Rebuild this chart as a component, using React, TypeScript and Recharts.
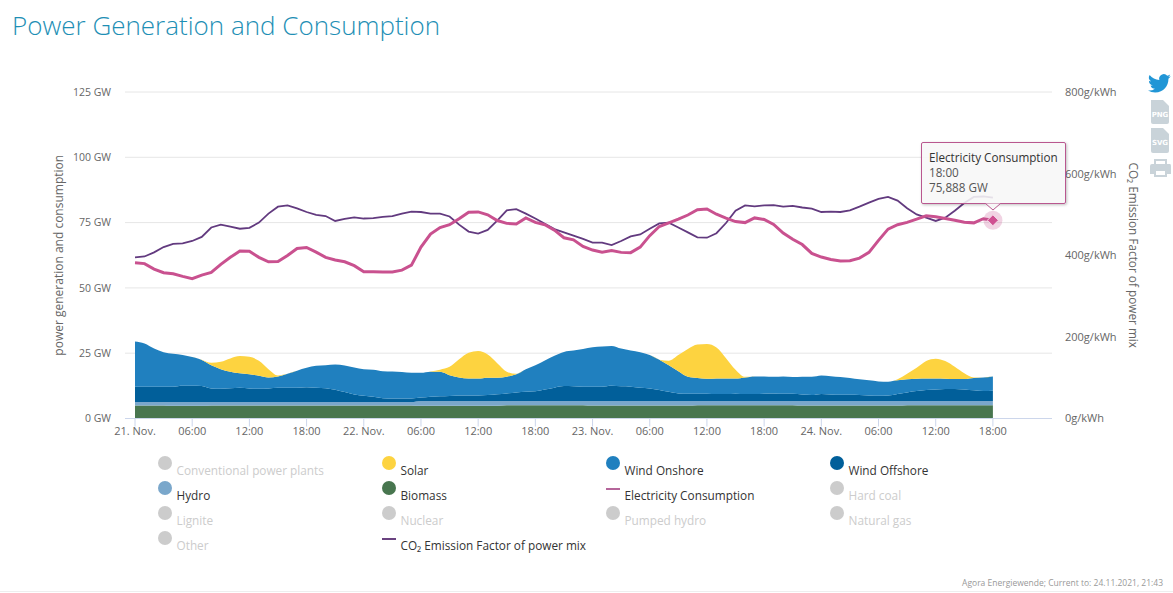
import React from 'react';
import { ComposedChart, Area, Line, XAxis, YAxis, CartesianGrid, Tooltip } from 'recharts';

const hours = Array.from({ length: 91 }, (_, i) => i);

const tickHours = [0, 6, 12, 18, 24, 30, 36, 42, 48, 54, 60, 66, 72, 78, 84, 90];
const tickLabels = ['21. Nov.', '06:00', '12:00', '18:00', '22. Nov.', '06:00', '12:00', '18:00', '23. Nov.', '06:00', '12:00', '18:00', '24. Nov.', '06:00', '12:00', '18:00'];
const leftTicks = [0, 25, 50, 75, 100, 125];
const rightTicks = [0, 200, 400, 600, 800];

const biomass = [
  5.0, 5.0, 5.0, 5.0, 4.9, 4.9, 4.9, 4.9, 5.0, 5.0, 5.0, 5.0, 5.0, 5.0, 5.0, 5.0, 5.0, 5.0, 5.0, 5.0, 5.0, 5.0, 5.0, 5.0, 5.0, 5.0, 5.0, 5.0, 5.0, 5.0,
  4.9, 4.9, 4.9, 4.9, 4.9, 4.9, 4.9, 4.9, 4.9, 5.1, 5.1, 5.1, 5.1, 5.1, 5.1, 5.1, 5.1, 5.1, 5.0, 5.0, 5.0, 5.0, 5.0, 5.0, 5.0, 5.0, 5.0, 5.0, 5.0, 5.1,
  5.1, 5.1, 5.1, 5.1, 5.1, 5.1, 5.1, 5.1, 5.1, 5.1, 5.0, 5.0, 5.0, 5.0, 5.0, 5.0, 5.0, 5.0, 5.0, 5.0, 5.0, 5.1, 5.1, 5.1, 5.1, 5.1, 5.1, 5.1, 5.1, 5.1, 5.1,
];
const hydro = [
  1.3, 1.3, 1.3, 1.3, 1.4, 1.4, 1.4, 1.4, 1.3, 1.3, 1.3, 1.3, 1.3, 1.3, 1.3, 1.3, 1.3, 1.3, 1.3, 1.3, 1.3, 1.3, 1.3, 1.3, 1.3, 1.3, 1.3, 1.3, 1.3, 1.3,
  1.8, 1.8, 1.8, 1.8, 1.8, 1.8, 1.8, 1.8, 1.8, 1.6, 1.6, 1.6, 1.6, 1.6, 1.6, 1.6, 1.6, 1.6, 1.7, 1.7, 1.7, 1.7, 1.7, 1.7, 1.7, 1.7, 1.7, 1.7, 1.7, 1.6,
  1.6, 1.6, 1.6, 1.6, 1.6, 1.6, 1.6, 1.6, 1.6, 1.6, 1.7, 1.7, 1.7, 1.7, 1.7, 1.7, 1.7, 1.7, 1.7, 1.7, 1.7, 1.6, 1.6, 1.6, 1.6, 1.6, 1.6, 1.6, 1.6, 1.6, 1.6,
];
const windOffshore = [
  5.9, 5.9, 5.9, 5.9, 5.9, 6.2, 6.2, 6.1, 5.2, 5.1, 5.3, 5.5, 5.2, 5.1, 5.2, 5.5, 5.5, 5.5, 5.7, 5.5, 5.3, 4.7, 3.8, 2.9, 2.4, 2.0, 1.5, 1.4, 1.4, 1.4,
  1.3, 1.6, 1.8, 1.9, 2.1, 2.1, 2.1, 2.3, 2.6, 2.9, 3.3, 3.5, 3.7, 4.4, 5.1, 5.7, 5.6, 5.5, 5.5, 5.5, 5.8, 5.6, 5.5, 5.1, 4.8, 4.2, 3.5, 2.9, 2.8, 2.8,
  2.8, 2.7, 2.7, 2.8, 2.7, 2.7, 2.8, 2.9, 2.8, 2.8, 2.5, 2.3, 2.7, 2.5, 2.4, 2.4, 2.3, 2.1, 2.0, 2.1, 2.7, 3.3, 3.8, 4.2, 4.4, 4.6, 4.6, 4.4, 4.1, 3.8, 3.9,
];
const windOnshore = [
  17.3, 16.5, 14.6, 13.2, 12.6, 11.8, 11.0, 10.0, 8.9, 7.5, 6.3, 5.5, 5.4, 5.0, 4.2, 4.3, 5.3, 6.5, 7.4, 8.4, 8.8, 9.7, 10.2, 10.3, 10.2, 10.4, 10.3, 10.3, 10.1, 9.8,
  9.5, 9.6, 9.4, 8.0, 6.9, 6.5, 6.5, 6.6, 6.3, 6.4, 6.9, 8.7, 10.0, 11.1, 12.2, 13.1, 13.7, 14.4, 15.1, 15.4, 15.3, 14.5, 13.8, 13.6, 12.8, 11.6, 10.2, 8.5, 6.5, 6.0,
  5.7, 5.9, 5.9, 5.8, 6.3, 6.7, 6.6, 6.4, 6.6, 6.4, 6.8, 7.0, 7.1, 7.0, 6.8, 6.4, 6.0, 5.8, 5.5, 5.3, 5.2, 5.0, 4.7, 4.4, 4.2, 3.9, 3.8, 4.0, 4.7, 5.2, 5.5,
];
const solar = [
  0, 0, 0, 0, 0, 0, 0, 0.1, 0.9, 2.8, 5.1, 6.6, 6.7, 5.7, 3.2, 0.4, 0, 0, 0, 0, 0, 0, 0, 0, 0, 0, 0, 0, 0, 0,
  0, 0.1, 0.8, 3.2, 7.0, 9.9, 10.5, 8.9, 5.6, 1.9, 0.2, 0, 0, 0, 0, 0, 0, 0, 0, 0, 0, 0, 0, 0, 0, 0, 1.7, 6.2, 10.6, 12.8,
  13.3, 11.9, 7.8, 3.4, 0.3, 0, 0, 0, 0, 0, 0, 0, 0, 0, 0, 0, 0, 0, 0, 0, 0.4, 2.1, 4.2, 6.7, 7.6, 6.8, 4.7, 2.2, 0.2, 0, 0,
];
const consumption = [
  59.6, 59.3, 57.2, 55.8, 55.4, 54.4, 53.5, 54.9, 55.9, 59.0, 61.7, 64.1, 64.0, 61.7, 60.0, 60.1, 62.4, 65.1, 65.5, 63.7, 61.7, 60.7, 60.0, 58.5, 56.2, 56.2, 56.1, 56.1, 56.8, 58.7,
  65.6, 70.6, 73.1, 74.2, 76.5, 79.0, 79.1, 78.0, 75.8, 74.7, 74.5, 76.8, 75.1, 74.2, 72.1, 69.2, 68.4, 65.9, 64.5, 63.7, 64.3, 63.6, 63.5, 65.6, 70.0, 73.5, 74.9, 76.3, 77.9, 79.9,
  80.2, 78.2, 76.7, 75.4, 75.0, 76.8, 76.2, 74.3, 71.0, 68.6, 66.6, 63.2, 61.8, 60.9, 60.3, 60.4, 61.4, 63.6, 68.2, 72.5, 74.2, 75.1, 76.3, 77.6, 77.2, 76.6, 75.9, 75.1, 74.9, 76.5, 75.888,
];
const co2Factor = [
  395, 397, 407, 420, 428, 429, 435, 445, 468, 475, 470, 465, 467, 480, 502, 519, 522, 515, 506, 499, 496, 484, 489, 493, 490, 491, 494, 496, 502, 507,
  506, 502, 502, 495, 475, 458, 453, 462, 485, 510, 513, 502, 490, 477, 464, 456, 448, 440, 431, 431, 425, 435, 446, 451, 465, 478, 480, 468, 456, 444,
  443, 454, 479, 509, 522, 520, 522, 523, 519, 521, 517, 514, 506, 507, 506, 510, 519, 529, 538, 543, 534, 515, 500, 492, 484, 492, 509, 528, 543, 544, 541,
];

const data = hours.map((hour, i) => ({
  hour,
  label: tickLabels[tickHours.indexOf(hour)] ?? '',
  biomass: biomass[i],
  hydro: hydro[i],
  windOffshore: windOffshore[i],
  windOnshore: windOnshore[i],
  solar: solar[i],
  consumption: consumption[i],
  co2Factor: co2Factor[i],
}));

const FONT = '"Open Sans", sans-serif';
const TICK = '#666666';

const legendRows = [
  [{ name: 'Conventional power plants' }, { name: 'Solar', color: '#fdd340' }, { name: 'Wind Onshore', color: '#2080bf' }, { name: 'Wind Offshore', color: '#015f9a' }],
  [{ name: 'Hydro', color: '#7aa7cb' }, { name: 'Biomass', color: '#48764f' }, { name: 'Electricity Consumption', color: '#b5659a', line: true }, { name: 'Hard coal' }],
  [{ name: 'Lignite' }, { name: 'Nuclear' }, { name: 'Pumped hydro' }, { name: 'Natural gas' }],
  [{ name: 'Other' }, { name: 'CO₂ Emission Factor of power mix', color: '#6a4280', line: true }],
];
const legendX = [158, 382, 606, 830];
const legendY = [456, 481, 506, 531];

const LegendBlock = () => (
  <>
    {legendRows.flatMap((row, r) =>
      row.map((item: any, c) => (
        <div key={item.name} style={{ position: 'absolute', left: legendX[c], top: legendY[r], height: 24, width: 220 }}>
          {item.line ? (
            <div style={{ position: 'absolute', left: 0, top: 7, width: 14, height: 2, background: item.color }} />
          ) : (
            <div style={{ position: 'absolute', left: 0, top: 0, width: 14, height: 14, borderRadius: 7, background: item.color ?? '#cccccc' }} />
          )}
          <span style={{ position: 'absolute', left: 18.5, top: 6, fontSize: 11.8, lineHeight: '16px', whiteSpace: 'nowrap', color: item.color ? '#333333' : '#cccccc' }}>{item.name}</span>
        </div>
      )),
    )}
  </>
);

const TooltipBox = ({ active, payload }: any) => {
  if (!active || !payload || !payload.length) return null;
  const row = payload[0].payload;
  return (
    <div style={{ position: 'relative', width: 145, height: 62, boxSizing: 'border-box', padding: '7px 7px', background: 'rgba(247,247,247,0.88)', border: '1px solid #b9578f', borderRadius: 2, boxShadow: '1px 1px 3px rgba(0,0,0,0.25)', fontFamily: FONT, fontSize: 11.7, lineHeight: '15px', color: '#555555', whiteSpace: 'nowrap' }}>
      <div style={{ color: '#333333' }}>Electricity Consumption</div>
      <div>18:00</div>
      <div>{row.consumption.toFixed(3).replace('.', ',')} GW</div>
      <svg width="16" height="8" style={{ position: 'absolute', left: 63, top: 60 }}>
        <path d="M0.5 0.5 L8 7 L15.5 0.5" fill="#f7f7f7" stroke="#b9578f" />
      </svg>
    </div>
  );
};

const LastPointDot = ({ cx, cy, index }: any) => {
  if (index !== data.length - 1) return <g key={index} />;
  return (
    <g key={index}>
      <circle cx={cx} cy={cy} r={9.5} fill="#c9518f" fillOpacity={0.25} />
      <path d={`M${cx} ${cy - 5.5} L${cx + 5.5} ${cy} L${cx} ${cy + 5.5} L${cx - 5.5} ${cy} Z`} fill="#cf4f91" stroke="#f6dbe9" strokeWidth={1} />
    </g>
  );
};

const SideIcons = () => (
  <svg width="30" height="112" style={{ position: 'absolute', left: 1143, top: 70 }}>
    <path transform="translate(5,2) scale(0.95)" fill="#2196d6" d="M24 4.6a9.8 9.8 0 0 1-2.8.8 4.9 4.9 0 0 0 2.2-2.7 9.8 9.8 0 0 1-3.1 1.2 4.9 4.9 0 0 0-8.4 4.5A13.9 13.9 0 0 1 1.7 3.2a4.9 4.9 0 0 0 1.5 6.5 4.9 4.9 0 0 1-2.2-.6v.1a4.9 4.9 0 0 0 3.9 4.8 4.9 4.9 0 0 1-2.2.1 4.9 4.9 0 0 0 4.6 3.4A9.9 9.9 0 0 1 0 19.5 13.9 13.9 0 0 0 7.5 21.7c9.1 0 14-7.5 14-14v-.6A10 10 0 0 0 24 4.6z" />
    <path d="M8 30 H20 L26 36 V52 Q26 54 24 54 H10 Q8 54 8 52 Z" fill="#c9d3d9" />
    <text x="17" y="47" fontSize="7" fontWeight="700" fill="#ffffff" textAnchor="middle" fontFamily="'DejaVu Sans'">PNG</text>
    <path d="M8 58 H20 L26 64 V81 Q26 83 24 83 H10 Q8 83 8 81 Z" fill="#c9d3d9" />
    <text x="17" y="75" fontSize="7" fontWeight="700" fill="#ffffff" textAnchor="middle" fontFamily="'DejaVu Sans'">SVG</text>
    <path d="M11 89 H24 V94 H27 Q28 94 28 96 V104 H24 V107 H11 V104 H7 V96 Q7 94 9 94 H11 Z M13 91 V94 H22 V91 Z M13 101 V105 H22 V101 Z" fillRule="evenodd" fill="#c9d3d9" />
  </svg>
);

export default function App() {
  return (
    <div style={{ position: 'absolute', left: 0, top: 0, width: 1173, height: 593, overflow: 'hidden', fontFamily: FONT, background: '#ffffff' }}>
      <div style={{ position: 'absolute', left: 12, top: 7, fontSize: 26, fontWeight: 300, color: '#1e8fb5', whiteSpace: 'nowrap' }}>Power Generation and Consumption</div>
      <ComposedChart width={1173} height={593} data={data} margin={{ top: 92, right: 0, bottom: 0, left: 0 }}>
        <CartesianGrid horizontal vertical={false} stroke="#e6e6e6" yAxisId="gw" />
        <XAxis
          type="number"
          dataKey="hour"
          domain={[-1.05, 96.2]}
          ticks={tickHours}
          interval={0}
          height={174.5}
          tickFormatter={(h: number) => tickLabels[tickHours.indexOf(h)]}
          tick={{ fill: TICK, fontSize: 11 }}
          tickSize={8}
          tickMargin={1}
          stroke="#ccd6eb"
        />
        <YAxis
          yAxisId="gw"
          width={125}
          domain={[0, 125]}
          ticks={leftTicks}
          tickFormatter={(v: number) => `${v} GW`}
          tick={{ fill: TICK, fontSize: 10.5 }}
          tickSize={0}
          tickMargin={14}
          axisLine={false}
          tickLine={false}
          label={{ value: 'power generation and consumption', angle: -90, position: 'center', dx: -4, fill: TICK, fontSize: 12 }}
        />
        <YAxis
          yAxisId="co2"
          orientation="right"
          width={121}
          domain={[0, 800]}
          ticks={rightTicks}
          tickFormatter={(v: number) => `${v}g/kWh`}
          tick={{ fill: TICK, fontSize: 11 }}
          tickSize={0}
          tickMargin={13}
          axisLine={false}
          tickLine={false}
          label={{ value: 'CO₂ Emission Factor of power mix', angle: 90, position: 'center', dx: 21, dy: 0, fill: TICK, fontSize: 11.8 }}
        />
        <Area yAxisId="gw" stackId="gen" type="monotone" dataKey="biomass" name="Biomass" fill="#48764f" fillOpacity={1} stroke="none" activeDot={false} isAnimationActive={false} />
        <Area yAxisId="gw" stackId="gen" type="monotone" dataKey="hydro" name="Hydro" fill="#7aa7cb" fillOpacity={1} stroke="none" activeDot={false} isAnimationActive={false} />
        <Area yAxisId="gw" stackId="gen" type="monotone" dataKey="windOffshore" name="Wind Offshore" fill="#015f9a" fillOpacity={1} stroke="none" activeDot={false} isAnimationActive={false} />
        <Area yAxisId="gw" stackId="gen" type="monotone" dataKey="windOnshore" name="Wind Onshore" fill="#2080bf" fillOpacity={1} stroke="none" activeDot={false} isAnimationActive={false} />
        <Area yAxisId="gw" stackId="gen" type="monotone" dataKey="solar" name="Solar" fill="#fdd340" fillOpacity={1} stroke="none" activeDot={false} isAnimationActive={false} />
        <Line yAxisId="co2" type="linear" dataKey="co2Factor" name="CO2 Emission Factor of power mix" stroke="#623a7f" strokeWidth={1.8} dot={false} activeDot={false} isAnimationActive={false} />
        <Line yAxisId="gw" type="linear" dataKey="consumption" name="Electricity Consumption" stroke="#c9518f" strokeWidth={3} dot={LastPointDot} activeDot={false} isAnimationActive={false} />
        <Tooltip active defaultIndex={90} cursor={false} isAnimationActive={false} position={{ x: 921, y: 142 }} allowEscapeViewBox={{ x: true, y: true }} content={TooltipBox} wrapperStyle={{ zIndex: 5, outline: 'none' }} />
      </ComposedChart>
      <LegendBlock />
      <SideIcons />
      <div style={{ position: 'absolute', right: 10, top: 577, fontSize: 8.5, color: '#999999', whiteSpace: 'nowrap' }}>Agora Energiewende; Current to: 24.11.2021, 21:43</div>
      <div style={{ position: 'absolute', left: 0, top: 591, width: 1173, height: 1, background: '#eeeeee' }} />
    </div>
  );
}
